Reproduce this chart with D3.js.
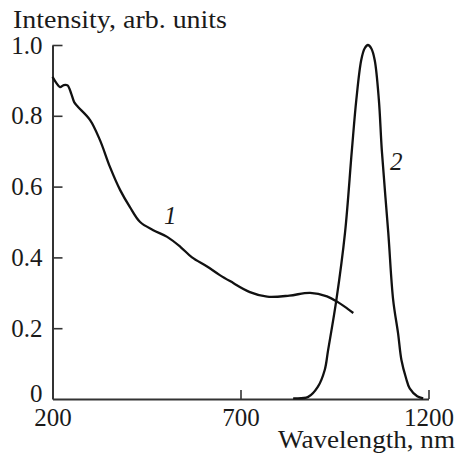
<!DOCTYPE html>
<html>
<head>
<meta charset="utf-8">
<script src="https://cdn.jsdelivr.net/npm/d3@7"></script>
<style>
	body { margin: 0; background: #fff; }
	text { font-family: "Liberation Serif", "Times New Roman", Times, serif; fill: #1a1a1a; }
</style>
</head>
<body>
<div id="chart"></div>
<script>
// Data
const wave1 = [200, 210, 220, 230, 240, 250, 258, 268, 300, 326, 353, 380, 406, 433, 468, 505, 540, 571, 610, 645, 672, 725, 771, 830, 885, 930, 960, 986, 1000];
const int1 = [0.91, 0.893, 0.881, 0.887, 0.886, 0.862, 0.838, 0.825, 0.788, 0.732, 0.655, 0.59, 0.542, 0.5, 0.477, 0.458, 0.43, 0.4, 0.375, 0.35, 0.333, 0.302, 0.289, 0.292, 0.3, 0.29, 0.273, 0.254, 0.243];

const wave2 = [840, 880, 906, 924, 933, 955, 978, 996, 1008, 1021, 1030, 1039, 1048, 1057, 1068, 1076, 1093, 1106, 1119, 1128, 1140, 1150, 1170, 1186];
const int2 = [0.002, 0.006, 0.035, 0.082, 0.138, 0.28, 0.47, 0.7, 0.845, 0.957, 0.99, 1.0, 0.99, 0.957, 0.845, 0.7, 0.47, 0.28, 0.186, 0.11, 0.06, 0.03, 0.008, 0.002];

const yTicks = [0, 0.2, 0.4, 0.6, 0.8, 1.0];
const xTicks = [200, 700, 1200];

const svgWidth = 458;
const svgHeight = 457;

const margin = {
	top: 45,
	right: 29.5,
	bottom: 58,
	left: 52.5
};

const width = svgWidth - margin.left - margin.right;
const height = svgHeight - margin.top - margin.bottom;

const svg = d3.select("#chart")
	.append("svg")
	.attr("width", svgWidth)
	.attr("height", svgHeight);

const chartGroup = svg.append("g")
	.attr("transform", `translate(${margin.left}, ${margin.top})`);

// Scales
const xScale = d3.scaleLinear().domain([200, 1200]).range([0, width]);
const yScale = d3.scaleLinear().domain([0, 1]).range([height, 0]);

// Axes, ticks point inward
const leftAxis = d3.axisLeft(yScale)
	.tickValues(yTicks)
	.tickFormat(d => d === 0 ? "0" : d3.format(".1f")(d))
	.tickSizeInner(-10)
	.tickSizeOuter(0)
	.tickPadding(10);

const bottomAxis = d3.axisBottom(xScale)
	.tickValues(xTicks)
	.tickFormat(d3.format("d"))
	.tickSizeInner(-9)
	.tickSizeOuter(0)
	.tickPadding(9);

const yAxis = chartGroup.append("g").call(leftAxis);
const xAxis = chartGroup.append("g")
	.attr("transform", `translate(0, ${height})`)
	.call(bottomAxis);

[xAxis, yAxis].forEach(ax => {
	ax.attr("font-family", null).attr("font-size", null);
	ax.select(".domain").attr("stroke", "#333").attr("stroke-width", 2);
	ax.selectAll(".tick line").attr("stroke", "#333").attr("stroke-width", 1.6);
	ax.selectAll(".tick text")
		.attr("font-size", 25)
		.attr("fill", "#1a1a1a");
});

// no tick marks in the corner
yAxis.selectAll(".tick").filter(d => d === 0).select("line").remove();
yAxis.selectAll(".tick").filter(d => d === 0).select("text").attr("dy", "0.1em");
xAxis.selectAll(".tick").filter(d => d === 200).select("line").remove();

// Curves
const line = d3.line()
	.x(d => xScale(d[0]))
	.y(d => yScale(d[1]))
	.curve(d3.curveCatmullRom.alpha(0.5));

chartGroup.append("path")
	.datum(wave1.map((w, i) => [w, int1[i]]))
	.attr("fill", "none")
	.attr("stroke", "#111")
	.attr("stroke-width", 2.3)
	.attr("d", line);

chartGroup.append("path")
	.datum(wave2.map((w, i) => [w, int2[i]]))
	.attr("fill", "none")
	.attr("stroke", "#111")
	.attr("stroke-width", 2.3)
	.attr("d", line);

// Curve numbers
svg.append("text")
	.attr("x", 164)
	.attr("y", 224)
	.attr("font-size", 25)
	.attr("font-style", "italic")
	.text("1");

svg.append("text")
	.attr("x", 390)
	.attr("y", 170)
	.attr("font-size", 25)
	.attr("font-style", "italic")
	.text("2");

// Axis titles
svg.append("text")
	.attr("x", 13)
	.attr("y", 28)
	.attr("font-size", 25)
	.attr("textLength", 214)
	.attr("lengthAdjust", "spacingAndGlyphs")
	.text("Intensity, arb. units");

svg.append("text")
	.attr("x", 278)
	.attr("y", 448)
	.attr("font-size", 25)
	.attr("textLength", 177)
	.attr("lengthAdjust", "spacingAndGlyphs")
	.text("Wavelength, nm");
</script>
</body>
</html>
